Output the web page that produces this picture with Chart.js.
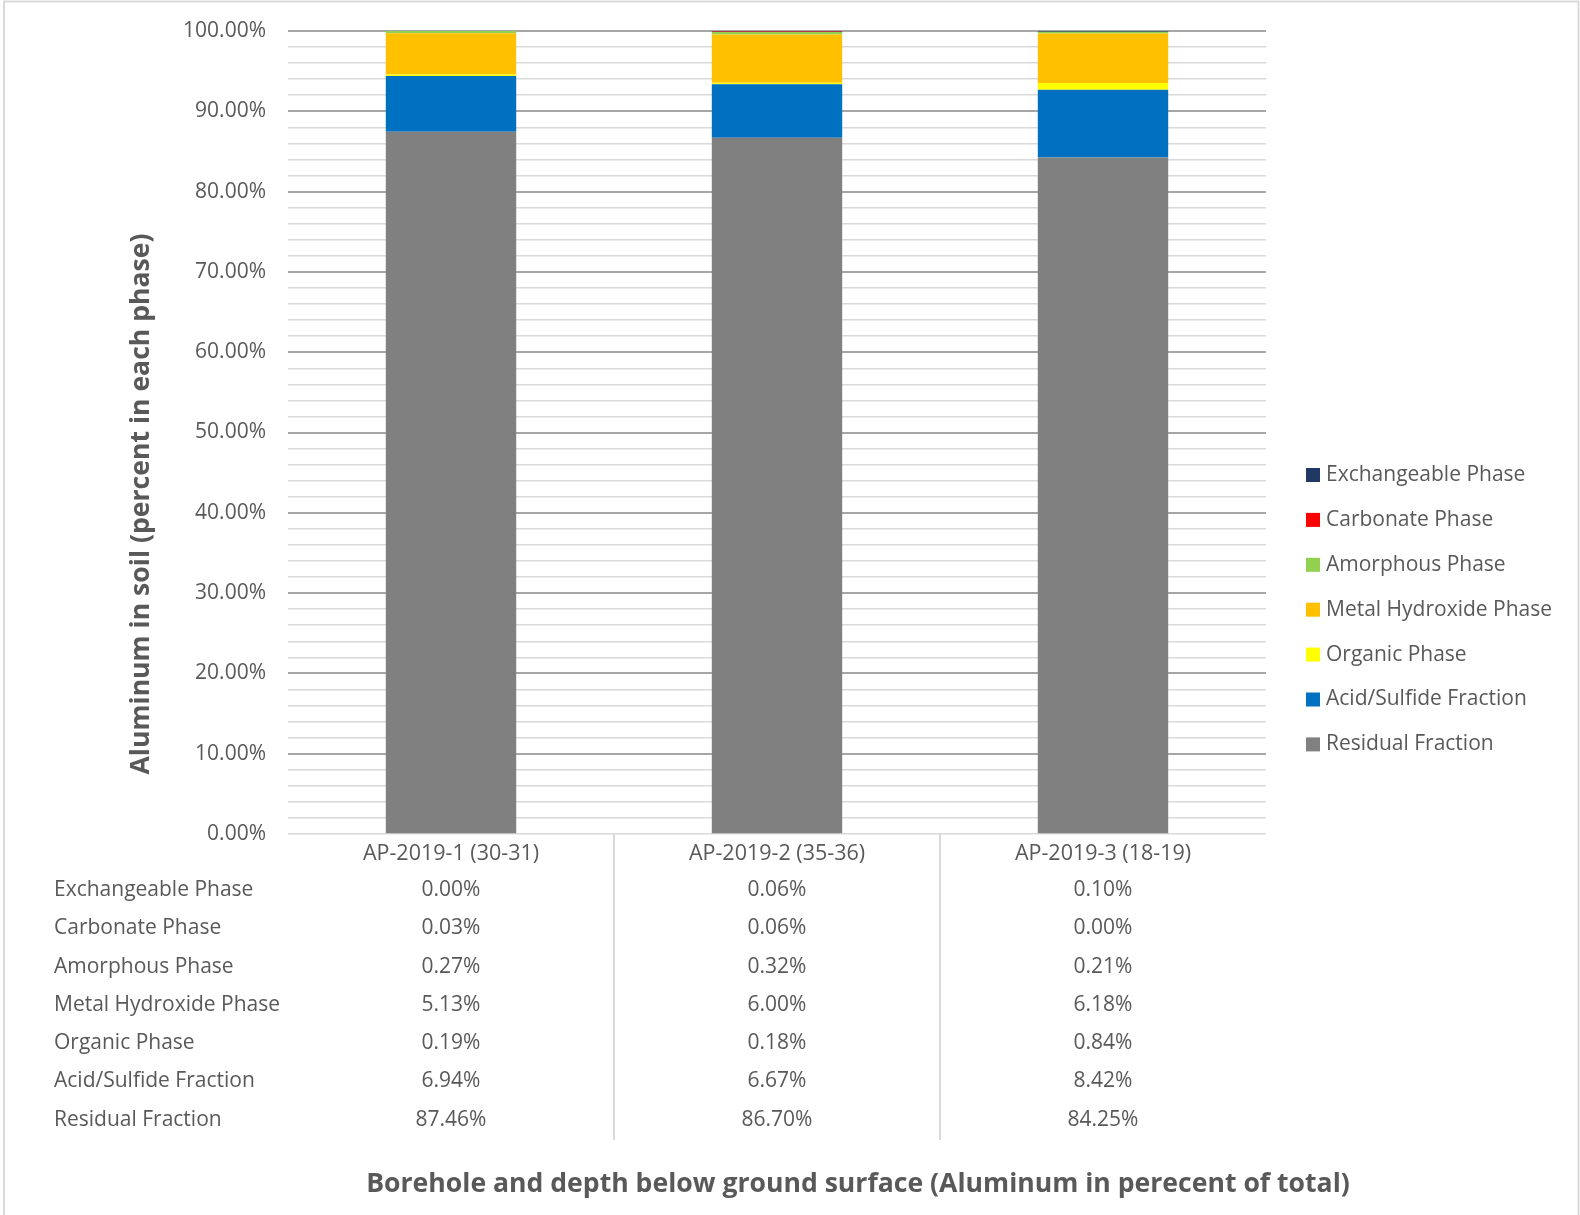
<!DOCTYPE html>
<html>
<head>
<meta charset="utf-8">
<script src="https://cdn.jsdelivr.net/npm/chart.js@4.4.0/dist/chart.umd.min.js"></script>
<style>
  html, body { margin: 0; padding: 0; background: #fff; }
  #wrap { position: relative; width: 1580px; height: 1215px; }
</style>
</head>
<body>
<div id="wrap"><canvas id="chart" width="1580" height="1215"></canvas></div>
<script>
// categories (boreholes)
const boreholes = ['AP-2019-1 (30-31)', 'AP-2019-2 (35-36)', 'AP-2019-3 (18-19)'];

// series values, percent of total aluminum
const exchangeable = [0.00, 0.06, 0.10];
const carbonate = [0.03, 0.06, 0.00];
const amorphous = [0.27, 0.32, 0.21];
const metalHydroxide = [5.13, 6.00, 6.18];
const organic = [0.19, 0.18, 0.84];
const acidSulfide = [6.94, 6.67, 8.42];
const residual = [87.46, 86.70, 84.25];

const yTicks = [0, 10, 20, 30, 40, 50, 60, 70, 80, 90, 100];

const TXT = '#595959';
const FONT = '"Open Sans", "DejaVu Sans", sans-serif';

// bottom of stack first
const series = [
  { label: 'Residual Fraction', data: residual, color: '#808080' },
  { label: 'Acid/Sulfide Fraction', data: acidSulfide, color: '#0070C0' },
  { label: 'Organic Phase', data: organic, color: '#FFFF00' },
  { label: 'Metal Hydroxide Phase', data: metalHydroxide, color: '#FFC000' },
  { label: 'Amorphous Phase', data: amorphous, color: '#92D050' },
  { label: 'Carbonate Phase', data: carbonate, color: '#FF0000' },
  { label: 'Exchangeable Phase', data: exchangeable, color: '#203864' }
];

const extras = {
  id: 'extras',
  afterDraw(chart) {
    const ctx = chart.ctx;
    const x = chart.scales.x;
    const area = chart.chartArea;
    ctx.save();

    // chart border (top, left, right)
    ctx.strokeStyle = '#d9d9d9';
    ctx.lineWidth = 2;
    ctx.beginPath();
    ctx.moveTo(4, 1215); ctx.lineTo(4, 1.5); ctx.lineTo(1578.5, 1.5); ctx.lineTo(1578.5, 1215);
    ctx.stroke();

    // data table separators
    for (let i = 1; i < boreholes.length; i++) {
      const px = (x.getPixelForValue(i - 1) + x.getPixelForValue(i)) / 2;
      ctx.beginPath();
      ctx.moveTo(px, area.bottom);
      ctx.lineTo(px, 1140);
      ctx.stroke();
    }

    // data table rows (top = last dataset)
    ctx.fillStyle = TXT;
    ctx.font = '21px ' + FONT;
    ctx.textBaseline = 'middle';
    const rows = series.slice().reverse();
    rows.forEach((s, r) => {
      const py = 890 + r * 38.3;
      ctx.textAlign = 'left';
      ctx.fillText(s.label, 54, py);
      ctx.textAlign = 'center';
      s.data.forEach((v, i) => {
        ctx.fillText(v.toFixed(2) + '%', x.getPixelForValue(i), py);
      });
    });

    // legend
    ctx.textAlign = 'left';
    rows.forEach((s, r) => {
      const py = 475 + r * 44.9;
      ctx.fillStyle = s.color;
      ctx.fillRect(1306, py - 7, 14, 14);
      ctx.fillStyle = TXT;
      ctx.fillText(s.label, 1326, py);
    });

    // axis titles
    ctx.font = 'bold 26.6px ' + FONT;
    ctx.textAlign = 'center';
    ctx.fillText('Borehole and depth below ground surface (Aluminum in perecent of total)', 858, 1184);
    ctx.translate(141, 504);
    ctx.rotate(-Math.PI / 2);
    ctx.fillText('Aluminum in soil (percent in each phase)', 0, 0);
    ctx.restore();
  }
};

new Chart(document.getElementById('chart'), {
  type: 'bar',
  data: {
    labels: boreholes,
    datasets: series.map(s => ({
      label: s.label,
      data: s.data,
      backgroundColor: s.color,
      borderWidth: 0,
      categoryPercentage: 1,
      barPercentage: 0.4
    }))
  },
  options: {
    responsive: false,
    animation: false,
    layout: { padding: { left: 0, top: 31, right: 314, bottom: 0 } },
    plugins: { legend: { display: false }, tooltip: { enabled: false } },
    scales: {
      x: {
        stacked: true,
        grid: { display: false, drawTicks: false },
        border: { display: false },
        ticks: { color: TXT, font: { family: FONT, size: 21.5 }, padding: 7, maxRotation: 0 },
        afterFit(scale) { scale.height = 1215 - 834; }
      },
      y: {
        stacked: true,
        min: 0,
        max: 100,
        border: { display: false },
        grid: {
          drawTicks: false,
          color: c => (c.tick.value % 10 === 0 && c.tick.value > 0) ? '#a6a6a6' : '#d9d9d9',
          lineWidth: c => (c.tick.value % 10 === 0 && c.tick.value > 0) ? 2 : 1.5
        },
        ticks: {
          stepSize: 2,
          autoSkip: false,
          padding: 22,
          color: TXT,
          font: { family: FONT, size: 21 },
          callback: v => yTicks.includes(v) ? v.toFixed(2) + '%' : ''
        },
        afterFit(scale) {
          scale.width = 288;
          scale.paddingTop = 0;
          scale.paddingBottom = 0;
        }
      }
    }
  },
  plugins: [extras]
});
</script>
</body>
</html>
